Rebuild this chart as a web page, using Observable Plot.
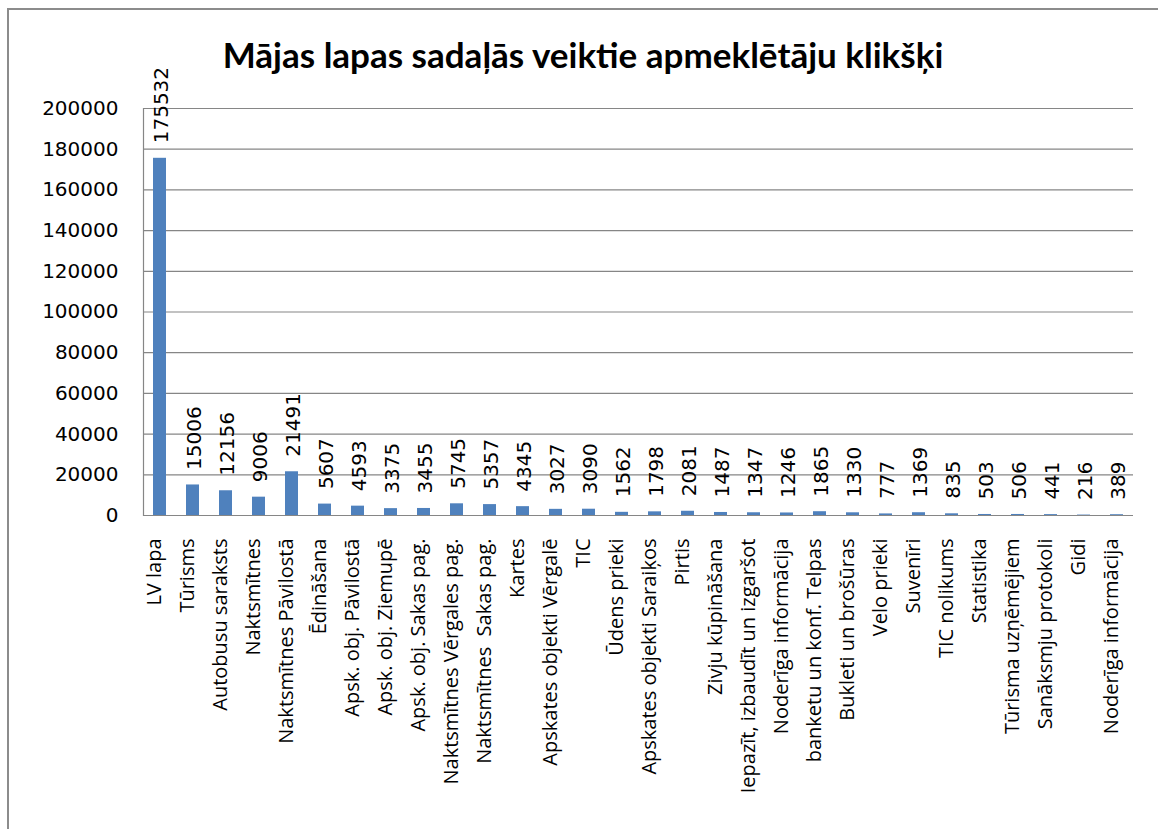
<!DOCTYPE html>
<html>
<head>
<meta charset="utf-8">
<script src="https://cdn.jsdelivr.net/npm/d3@7"></script>
<script src="https://cdn.jsdelivr.net/npm/@observablehq/plot@0.6"></script>
<style>
  html, body { margin: 0; padding: 0; background: #fff; overflow: hidden; }
  #wrap { position: relative; width: 1158px; height: 829px; }
  #border { position: absolute; left: 7px; top: 8px; width: 1200px; height: 900px;
            border-left: 2px solid #8c8c8c; border-top: 2px solid #8c8c8c; }
  #title { position: absolute; left: 0; width: 1166px; top: 34px; text-align: center;
           font-family: Lato, "Open Sans", sans-serif; font-weight: bold; font-size: 35px; line-height: 40px; color: #000; }
  #chart { position: absolute; left: 0; top: 0; }
  #chart svg { overflow: visible; }
</style>
</head>
<body>
<div id="wrap">
  <div id="border"></div>
  <div id="chart"></div>
  <div id="title">Mājas lapas sadaļās veiktie apmeklētāju klikšķi</div>
</div>
<script>
const categories = ["LV lapa","Tūrisms","Autobusu saraksts","Naktsmītnes","Naktsmītnes Pāvilostā","Ēdināšana","Apsk. obj. Pāvilostā","Apsk. obj. Ziemupē","Apsk. obj. Sakas pag.","Naktsmītnes Vērgales pag.","Naktsmītnes  Sakas pag.","Kartes","Apskates objekti Vērgalē","TIC","Ūdens prieki","Apskates objekti Saraiķos","Pirtis","Zivju kūpināšana","Iepazīt, izbaudīt un izgaršot","Noderīga informācija","banketu un konf. Telpas","Bukleti un brošūras","Velo prieki","Suvenīri","TIC nolikums","Statistika","Tūrisma uzņēmējiem","Sanāksmju protokoli","Gidi","Noderīga informācija"];
const values = [175532,15006,12156,9006,21491,5607,4593,3375,3455,5745,5357,4345,3027,3090,1562,1798,2081,1487,1347,1246,1865,1330,777,1369,835,503,506,441,216,389];
const yTicks = [0,20000,40000,60000,80000,100000,120000,140000,160000,180000,200000];

const data = categories.map((c, i) => ({i, name: c, value: values[i]}));
const gray = "#868686";

const chart = Plot.plot({
  width: 1158,
  height: 829,
  marginLeft: 143,
  marginRight: 25,
  marginTop: 108,
  marginBottom: 314,
  style: {fontFamily: "Lato, 'Open Sans', sans-serif", background: "transparent", overflow: "visible"},
  x: {type: "band", domain: d3.range(categories.length), paddingInner: 0.6, paddingOuter: 0.3, axis: null},
  y: {domain: [0, 200000], axis: null},
  marks: [
    Plot.ruleY(yTicks, {stroke: gray, strokeWidth: 1.2}),
    Plot.frame({anchor: "left", stroke: gray, strokeWidth: 1.2}),
    Plot.barY(data, {x: "i", y: "value", fill: "#4f81bd"}),
    Plot.text(data, {x: "i", y: "value", text: d => String(d.value), rotate: -90, textAnchor: "start",
      dy: -15, dx: 2, fontSize: 20, fontFamily: "DejaVu Sans", fill: "#000"}),
    Plot.text(data, {x: "i", text: "name", frameAnchor: "bottom", rotate: -90, textAnchor: "end",
      dy: 23, dx: 1, fontSize: 20, fontFamily: "Open Sans", fill: "#000"}),
    Plot.text(yTicks, {y: d => d, text: d => String(d), frameAnchor: "left", textAnchor: "end",
      dx: -25, fontSize: 20, fontFamily: "DejaVu Sans", fill: "#000", style: "letter-spacing:1px"})
  ]
});
document.getElementById("chart").appendChild(chart);
</script>
</body>
</html>
